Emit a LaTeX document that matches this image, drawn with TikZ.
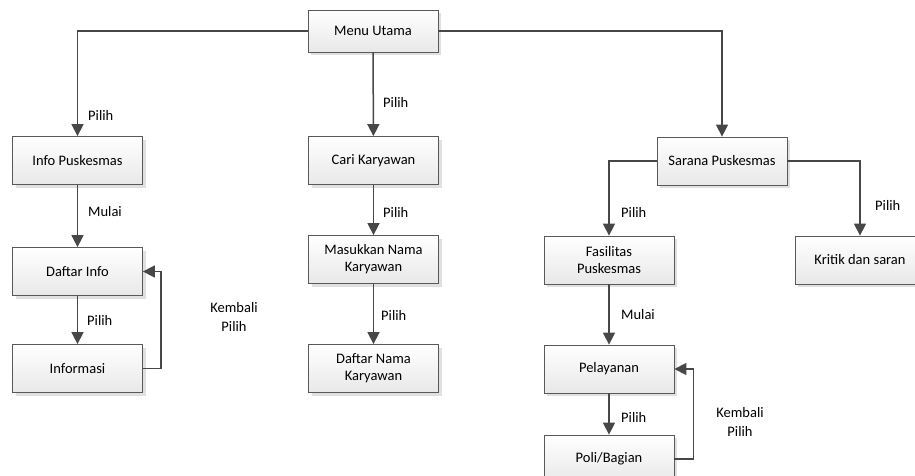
\documentclass[tikz,border=0pt]{standalone}
\usepackage{fontspec}
\setmainfont{Carlito}
\usetikzlibrary{arrows.meta,shadows}
\begin{document}
\begin{tikzpicture}[x=1pt,y=-1pt,
  box/.style={draw=black!65, line width=0.8pt, top color=white, bottom color=black!9,
    minimum width=130pt, minimum height=48pt, align=center, inner sep=1pt,
    font=\fontsize{14.5}{17}\selectfont,
    drop shadow={shadow xshift=3pt, shadow yshift=-3pt, fill=black!12, opacity=1}},
  conn/.style={draw=black!72, line width=1.5pt, -{Triangle[length=12pt,width=12pt]}},
  lbl/.style={font=\fontsize{14.5}{17}\selectfont, anchor=west, inner sep=0pt},
  lblc/.style={font=\fontsize{14.5}{19}\selectfont, align=center, inner sep=0pt}]
\useasboundingbox (0,0) rectangle (915,476);
% nodes
\node[box, minimum height=42pt] (menu) at (373,31) {Menu Utama};
\node[box] (info) at (77.5,160.5) {Info Puskesmas};
\node[box] (cari) at (373.5,160.5) {Cari Karyawan};
\node[box] (sarana) at (722,161) {Sarana Puskesmas};
\node[box] (daftar) at (77.5,271.5) {Daftar Info};
\node[box] (informasi) at (77.5,368.5) {Informasi};
\node[box] (masuk) at (373.5,259.5) {Masukkan Nama\\Karyawan};
\node[box] (dnama) at (373.5,368.5) {Daftar Nama\\Karyawan};
\node[box] (fas) at (609,260) {Fasilitas\\Puskesmas};
\node[box] (kritik) at (860,260) {Kritik dan saran};
\node[box] (pel) at (609,369) {Pelayanan};
\node[box] (poli) at (609,459) {Poli/Bagian};
% connectors
\draw[conn] (menu.west) -| (info.north);
\draw[conn] (menu.east) -| (sarana.north);
\draw[conn] (menu) -- (cari);
\draw[conn] (info) -- (daftar);
\draw[conn] (daftar) -- (informasi);
\draw[conn] (informasi.east) -- ++(18,0) |- (daftar.east);
\draw[conn] (cari) -- (masuk);
\draw[conn] (masuk) -- (dnama);
\draw[conn] (sarana.west) -| (fas.north);
\draw[conn] (sarana.east) -| (kritik.north);
\draw[conn] (fas) -- (pel);
\draw[conn] (pel) -- (poli);
\draw[conn] (poli.east) -- ++(19,0) |- (pel.east);
% labels
\node[lbl] (l1) at (88,115) {Pilih};
\node[lbl] (l2) at (383,102) {Pilih};
\node[lbl] (l3) at (88,212) {Mulai};
\node[lbl] (l4) at (383,212) {Pilih};
\node[lbl] (l5) at (87,320) {Pilih};
\node[lbl] (l6) at (381,315) {Pilih};
\node[lblc] (l7) at (234,317) {Kembali\\Pilih};
\node[lbl] (l8) at (621,212) {Pilih};
\node[lbl] (l9) at (875,205) {Pilih};
\node[lbl] (l10) at (621,315) {Mulai};
\node[lbl] (l11) at (621,417) {Pilih};
\node[lblc] (l12) at (740,422) {Kembali\\Pilih};
\end{tikzpicture}
\end{document}
